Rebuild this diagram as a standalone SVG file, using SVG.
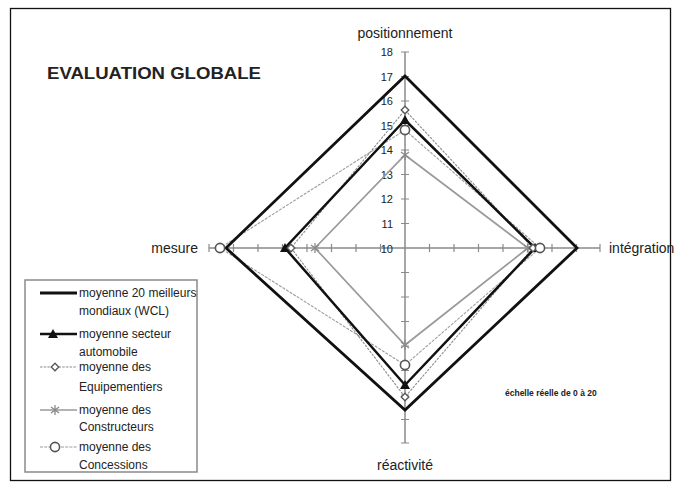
<svg xmlns="http://www.w3.org/2000/svg" width="680" height="491" viewBox="0 0 680 491">
<style>
.t{font-family:"Liberation Sans",Arial,sans-serif;fill:#222}
.ax{stroke:#8a8a8a;stroke-width:1.5;fill:none}
.tk{stroke:#8a8a8a;stroke-width:1.2}
.wcl{stroke:#111;stroke-width:2.8;fill:none;stroke-linejoin:miter}
.sec{stroke:#111;stroke-width:2.5;fill:none}
.equ{stroke:#8c8c8c;stroke-width:1.1;fill:none;stroke-dasharray:2.5 1.2}
.con{stroke:#9a9a9a;stroke-width:1.7;fill:none}
.cnc{stroke:#9c9c9c;stroke-width:1.1;fill:none;stroke-dasharray:3 1.2}
</style>
<defs>
<path id="tri" d="M0,-5 L5,4 L-5,4 Z" fill="#111"/>
<path id="dia" d="M0,-3.8 L3.8,0 L0,3.8 L-3.8,0 Z" fill="#fff" stroke="#555" stroke-width="1.3"/>
<circle id="cir" r="4.6" fill="#fff" stroke="#555" stroke-width="1.6"/>
<path id="star" d="M-4,-3 L4,3 M-4,3 L4,-3 M0,-5 L0,5" stroke="#8a8a8a" stroke-width="1.3" fill="none"/>
</defs>
<rect x="10.5" y="8.5" width="660" height="472" fill="#fff" stroke="#111" stroke-width="1.3"/>
<text class="t" x="47" y="79" font-size="17" font-weight="bold" textLength="214" lengthAdjust="spacingAndGlyphs">EVALUATION GLOBALE</text>
<g id="axes">
<line class="ax" x1="405" y1="52" x2="405" y2="443"/>
<line class="ax" x1="209" y1="248" x2="600" y2="248"/>
<path class="tk" d="M401,52.0H409M401,76.5H409M401,101.0H409M401,125.5H409M401,150.0H409M401,174.5H409M401,199.0H409M401,223.5H409M401,272.5H409M401,297.0H409M401,321.5H409M401,346.0H409M401,370.5H409M401,395.0H409M401,419.5H409M401,443.0H409"/>
<path class="tk" d="M209,244V252M233.5,244V252M258,244V252M282.5,244V252M307,244V252M331.5,244V252M356,244V252M380.5,244V252M429.5,244V252M454,244V252M478.5,244V252M503,244V252M527.5,244V252M552,244V252M576.5,244V252M600,244V252"/>
<g class="t" font-size="11" text-anchor="end">
<text x="393" y="56">18</text>
<text x="393" y="80.5">17</text>
<text x="393" y="105">16</text>
<text x="393" y="129.5">15</text>
<text x="393" y="154">14</text>
<text x="393" y="178.5">13</text>
<text x="393" y="203">12</text>
<text x="393" y="227.5">11</text>
<text x="393" y="253">10</text>
</g>
</g>
<g id="labels" class="t" font-size="14">
<text x="405" y="38" text-anchor="middle">positionnement</text>
<text x="609" y="253">intégration</text>
<text x="405" y="470" text-anchor="middle">réactivité</text>
<text x="198" y="253" text-anchor="end">mesure</text>
<text x="505" y="396" font-size="8.5" font-weight="bold">échelle réelle de 0 à 20</text>
</g>
<g id="connectors">
<polygon class="cnc" points="405,130 540,248 405,365 220,248"/>
<polygon class="con" points="405,155 528,248 405,345 315,248"/>
<polygon class="equ" points="405,110 533,248 405,397 291,248"/>
<polygon class="sec" points="405,120 535,248 405,385 285,248"/>
<polygon class="wcl" points="405,76 577,248 405,410 226,248"/>
</g>
<g id="series-markers">
<use href="#star" x="405" y="155"/><use href="#star" x="528" y="248"/><use href="#star" x="405" y="345"/><use href="#star" x="315" y="248"/>
<use href="#tri" x="405" y="120"/><use href="#tri" x="535" y="248"/><use href="#tri" x="405" y="385"/><use href="#tri" x="285" y="248"/>
<use href="#dia" x="405" y="110"/><use href="#dia" x="533" y="248"/><use href="#dia" x="405" y="397"/><use href="#dia" x="291" y="248"/>
<use href="#cir" x="405" y="130"/><use href="#cir" x="540" y="248"/><use href="#cir" x="405" y="365"/><use href="#cir" x="220" y="248"/>
</g>
<g id="legend">
<rect x="25" y="280" width="172" height="192" fill="#fff" stroke="#8a8a8a" stroke-width="1.5"/>
<line class="wcl" x1="40" y1="293" x2="77" y2="293"/>
<line class="sec" x1="40" y1="334" x2="77" y2="334"/><use href="#tri" x="53" y="334"/>
<line class="equ" x1="40" y1="367" x2="77" y2="367"/><use href="#dia" x="55" y="367"/>
<line class="con" x1="40" y1="410" x2="77" y2="410"/><use href="#star" x="55" y="410"/>
<line class="cnc" x1="40" y1="447" x2="77" y2="447"/><use href="#cir" x="55" y="447"/>
<g class="t" font-size="12">
<text x="79" y="297">moyenne 20 meilleurs</text>
<text x="79" y="315">mondiaux (WCL)</text>
<text x="79" y="338">moyenne secteur</text>
<text x="79" y="356">automobile</text>
<text x="79" y="371">moyenne des</text>
<text x="79" y="391">Equipementiers</text>
<text x="79" y="414">moyenne des</text>
<text x="79" y="431">Constructeurs</text>
<text x="79" y="451">moyenne des</text>
<text x="79" y="469">Concessions</text>
</g>
</g>
</svg>
